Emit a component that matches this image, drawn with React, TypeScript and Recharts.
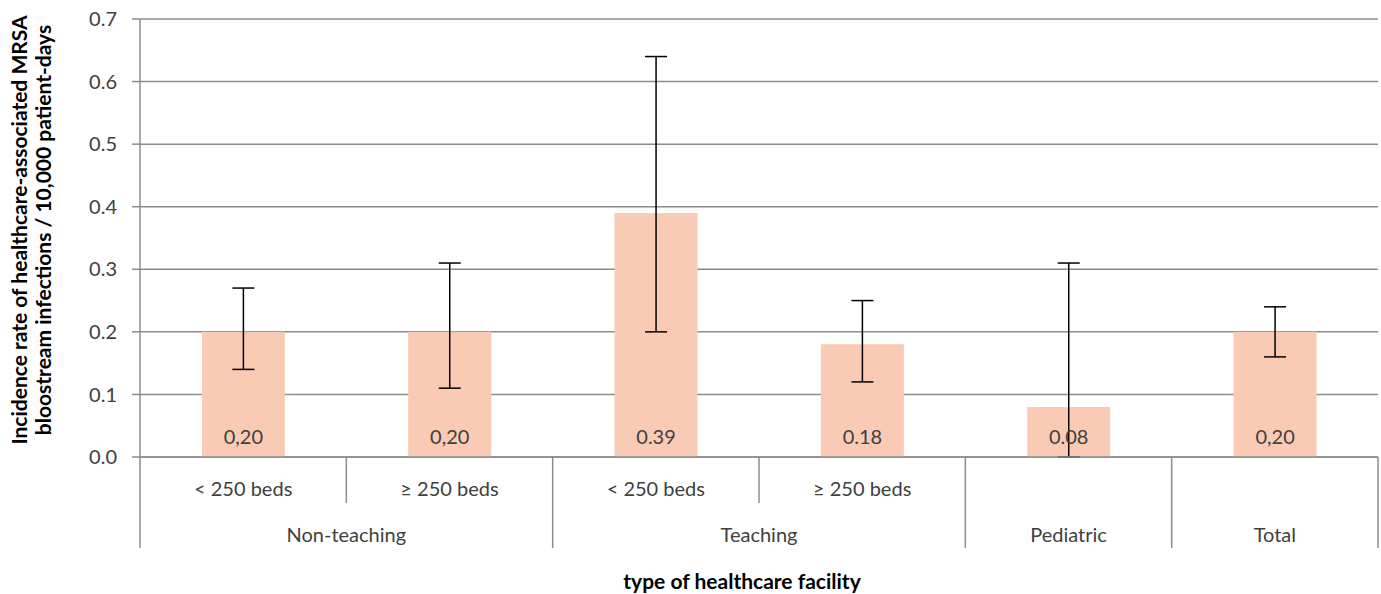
import { BarChart, Bar, XAxis, YAxis, CartesianGrid, ErrorBar, LabelList } from "recharts";

const categories = ["< 250 beds", "≥ 250 beds", "< 250 beds", "≥ 250 beds", "", ""];
const groups = ["Non-teaching", "Non-teaching", "Teaching", "Teaching", "Pediatric", "Total"];
const rates = [0.2, 0.2, 0.39, 0.18, 0.08, 0.2];
const rateLabels = ["0,20", "0,20", "0.39", "0.18", "0.08", "0,20"];
const ciLow = [0.14, 0.11, 0.2, 0.12, 0, 0.16];
const ciHigh = [0.27, 0.31, 0.64, 0.25, 0.31, 0.24];
const yTicks = [0, 0.1, 0.2, 0.3, 0.4, 0.5, 0.6, 0.7];

const data = rates.map((rate, i) => ({
  cat: String(i),
  rate,
  label: rateLabels[i],
  err: [rate - ciLow[i], ciHigh[i] - rate],
}));

const FONT = "Lato, 'Open Sans', sans-serif";
const GRID = "#8c8c8c";
const TEXT = "#404040";

const FacilityTick = (props: any) => {
  const { x, y, index, payload } = props;
  const half = payload?.offset || 103;
  const left = x - half;
  const startsGroup = index === 0 || groups[index] !== groups[index - 1];
  let span = 0;
  if (startsGroup) {
    while (groups[index + span] === groups[index]) span++;
  }
  return (
    <g>
      <line x1={left} x2={left} y1={y} y2={startsGroup ? y + 91 : y + 46} stroke={GRID} strokeWidth={1.5} />
      {index === groups.length - 1 && (
        <line x1={x + half} x2={x + half} y1={y} y2={y + 91} stroke={GRID} strokeWidth={1.5} />
      )}
      <text x={x} y={y + 39} textAnchor="middle" fontSize={20} fill={TEXT} fontFamily={FONT}>
        {categories[index]}
      </text>
      {startsGroup && (
        <text x={left + span * half} y={y + 85} textAnchor="middle" fontSize={20} fill={TEXT} fontFamily={FONT}>
          {groups[index]}
        </text>
      )}
    </g>
  );
};

const YTitle = () => (
  <text
    transform="translate(0 230) rotate(-90)"
    textAnchor="middle"
    fontSize={21}
    fontWeight="bold"
    fill="#000"
    fontFamily={FONT}
  >
    <tspan x={0} y={27}>Incidence rate of healthcare-associated MRSA</tspan>
    <tspan x={0} y={51}>bloostream infections / 10,000  patient-days</tspan>
  </text>
);

export default function App() {
  return (
    <div style={{ position: "absolute", left: 0, top: 0, background: "#fff" }}>
      <BarChart
        width={1381}
        height={594}
        data={data}
        margin={{ top: 19, right: 3, left: 80, bottom: 0 }}
        barCategoryGap="30%"
      >
        <CartesianGrid vertical={false} stroke={GRID} strokeWidth={1.5} />
        <XAxis
          dataKey="cat"
          height={137}
          tickSize={0}
          tickMargin={0}
          axisLine={{ stroke: GRID, strokeWidth: 1.5 }}
          tick={<FacilityTick />}
          interval={0}
          label={{
            value: "type of healthcare facility",
            position: "insideBottom",
            offset: 5,
            dx: -17,
            fontSize: 21,
            fontWeight: "bold",
            fill: "#000",
            fontFamily: FONT,
          }}
        />
        <YAxis
          domain={[0, 0.7]}
          ticks={yTicks}
          width={60}
          tickSize={8}
          tickMargin={15}
          tickFormatter={(v: number) => v.toFixed(1)}
          axisLine={{ stroke: GRID, strokeWidth: 1.5 }}
          tickLine={{ stroke: GRID, strokeWidth: 1.5 }}
          tick={{ fontSize: 20, fill: TEXT, fontFamily: FONT }}
          label={<YTitle />}
        />
        <Bar dataKey="rate" fill="#F9CBB4" isAnimationActive={false}>
          <ErrorBar dataKey="err" width={11} stroke="#000" strokeWidth={1.5} direction="y" />
          <LabelList
            dataKey="label"
            position="insideBottom"
            offset={13}
            fontSize={20}
            fill={TEXT}
            fontFamily={FONT}
          />
        </Bar>
      </BarChart>
    </div>
  );
}
